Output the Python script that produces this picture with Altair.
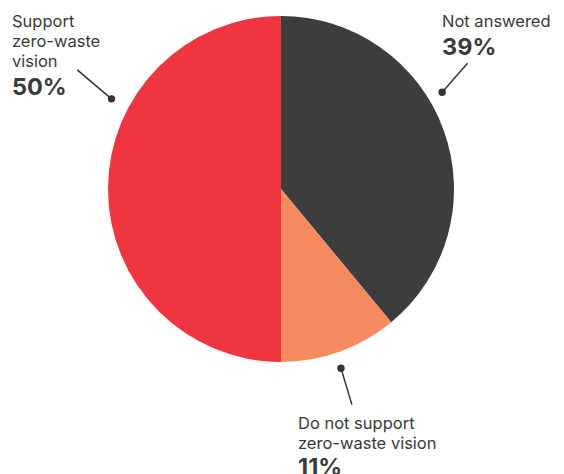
import altair as alt
import pandas as pd
import numpy as np

# ---- data ----
categories = ["Not answered", "Do not support zero-waste vision", "Support zero-waste vision"]
values = [39, 11, 50]
label_text = ["Not answered", "Do not support\nzero-waste vision", "Support\nzero-waste\nvision"]
pct_labels = ["39%", "11%", "50%"]
colors = ["#3d3d3d", "#f58a5e", "#ee3540"]

# ---- layout ----
W, H = 548, 466
CX, CY, R = 273, 181, 173
dot_angle = [59, 161.5, 298]
dot_r = [188, 189, 192]
end_angle = [56, 161.8, 300.3]
end_r = [225, 227, 236]
label_xy = [(434, 19), (290, 421), (4, 19)]
pct_xy = [(434, 47), (290, 467), (4, 87)]

def polar(a, r):
    a = np.radians(a)
    return CX + r * np.sin(a), CY - r * np.cos(a)

pie_df = pd.DataFrame({"category": categories, "value": values, "order": [0, 1, 2]})
color_scale = alt.Scale(domain=categories, range=colors)

pie = alt.Chart(pie_df).mark_arc(outerRadius=R, strokeWidth=0).encode(
    theta=alt.Theta("value:Q", stack=True),
    order=alt.Order("order:Q"),
    color=alt.Color("category:N", scale=color_scale, legend=None),
    x=alt.value(CX),
    y=alt.value(CY),
)

xs = alt.Scale(domain=[0, W])
ys = alt.Scale(domain=[H, 0])

dx, dy = polar(np.array(dot_angle), np.array(dot_r))
ex, ey = polar(np.array(end_angle), np.array(end_r))
lead_df = pd.DataFrame({"x": dx, "y": dy, "x2": ex, "y2": ey})

lines = alt.Chart(lead_df).mark_rule(color="#333333", strokeWidth=1.5).encode(
    x=alt.X("x:Q", scale=xs, axis=None),
    y=alt.Y("y:Q", scale=ys, axis=None),
    x2="x2:Q",
    y2="y2:Q",
)
dots = alt.Chart(lead_df).mark_circle(color="#333333", size=55, opacity=1).encode(
    x=alt.X("x:Q", scale=xs, axis=None),
    y=alt.Y("y:Q", scale=ys, axis=None),
)

lab_df = pd.DataFrame({
    "text": label_text,
    "x": [p[0] for p in label_xy],
    "y": [p[1] for p in label_xy],
})
labels = alt.Chart(lab_df).mark_text(
    align="left", baseline="alphabetic", fontSize=16.5, lineHeight=20,
    lineBreak="\n", font="Inter", color="#3a3a3a",
).encode(
    x=alt.X("x:Q", scale=xs, axis=None),
    y=alt.Y("y:Q", scale=ys, axis=None),
    text="text:N",
)

pct_df = pd.DataFrame({
    "text": pct_labels,
    "x": [p[0] for p in pct_xy],
    "y": [p[1] for p in pct_xy],
})
pcts = alt.Chart(pct_df).mark_text(
    align="left", baseline="alphabetic", fontSize=23.5, fontWeight="bold",
    font="Inter", color="#3a3a3a",
).encode(
    x=alt.X("x:Q", scale=xs, axis=None),
    y=alt.Y("y:Q", scale=ys, axis=None),
    text="text:N",
)

chart = alt.layer(pie, lines, dots, labels, pcts).properties(
    width=W, height=H, padding=0,
    autosize=alt.AutoSizeParams(type="none"),
).configure_view(stroke=None)

chart.save("out.html", embed_options={"renderer": "svg", "actions": False})
